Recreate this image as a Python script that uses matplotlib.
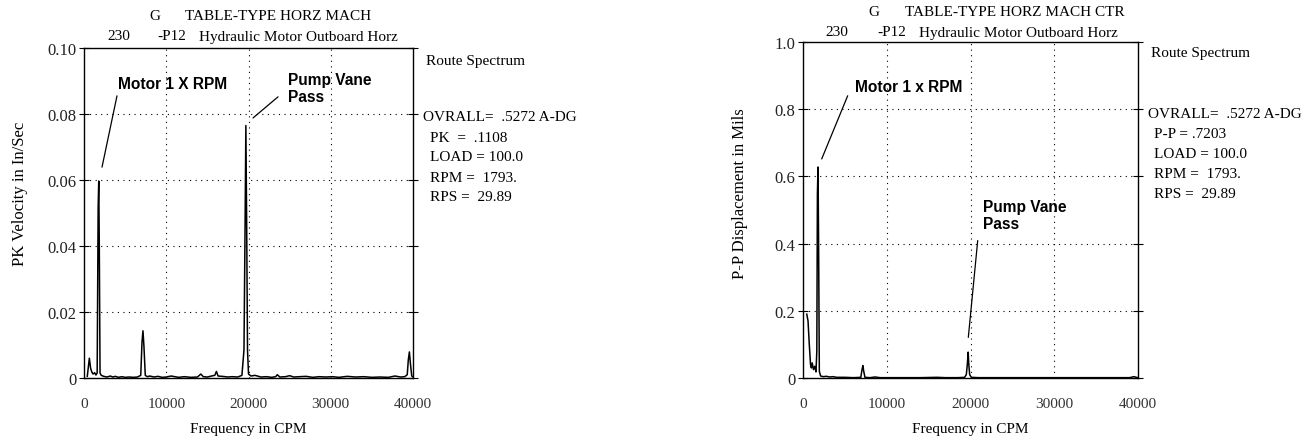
import matplotlib
matplotlib.use("Agg")
import matplotlib.pyplot as plt

# ---- data ----
left_cpm = [400, 650, 800, 950, 1100, 1300, 1450, 1600, 1720, 1793, 1860, 1950, 2100, 2400, 2800,
            3200, 3500, 3800, 4200, 4600, 5000, 5500, 6000, 6500, 6900, 7050, 7170, 7290, 7450,
            7700, 8000, 8500, 9000, 9500, 10000, 10600, 11500, 12200, 13000, 13800, 14200, 14500,
            15000, 15500, 15900, 16100, 16300, 16800, 17500, 18000, 18700, 19200, 19450, 19580,
            19680, 19780, 19880, 20000, 20300, 20800, 21500, 22200, 22800, 23300, 23500, 23800,
            24500, 25000, 25500, 26200, 27000, 27800, 28600, 29400, 30200, 31000, 32000, 33000,
            34000, 35000, 36000, 37000, 37800, 38500, 39000, 39300, 39430, 39560, 39700, 39850, 40000]
left_vel = [0.0005, 0.0060, 0.0030, 0.0018, 0.0012, 0.0016, 0.0009, 0.0015, 0.0515, 0.0597, 0.0400,
            0.0015, 0.0008, 0.0005, 0.0003, 0.0006, 0.0003, 0.0005, 0.0002, 0.0004, 0.0002, 0.0003,
            0.0002, 0.0003, 0.0008, 0.0108, 0.0143, 0.0095, 0.0008, 0.0004, 0.0006, 0.0003, 0.0005,
            0.0002, 0.0003, 0.0006, 0.0002, 0.0004, 0.0002, 0.0003, 0.0012, 0.0004, 0.0003, 0.0006,
            0.0008, 0.0020, 0.0006, 0.0005, 0.0003, 0.0004, 0.0003, 0.0008, 0.0085, 0.0450, 0.0765,
            0.0460, 0.0085, 0.0012, 0.0006, 0.0008, 0.0003, 0.0004, 0.0002, 0.0004, 0.0010, 0.0003,
            0.0004, 0.0007, 0.0003, 0.0004, 0.0005, 0.0002, 0.0004, 0.0003, 0.0004, 0.0002, 0.0005,
            0.0003, 0.0004, 0.0002, 0.0003, 0.0002, 0.0006, 0.0003, 0.0004, 0.0010, 0.0055, 0.0079,
            0.0040, 0.0006, 0.0003]

right_cpm = [450, 600, 750, 900, 1000, 1100, 1250, 1400, 1550, 1650, 1720, 1793, 1860, 1950, 2100,
             2400, 2800, 3200, 3600, 4000, 5000, 6000, 6900, 7050, 7150, 7250, 7400, 8000, 8600,
             9200, 10000, 12000, 14000, 16000, 17000, 18500, 19300, 19500, 19620, 19720, 19800,
             19900, 20100, 21000, 25000, 30000, 35000, 39000, 39500, 39800, 40000]
right_disp = [0.19, 0.17, 0.10, 0.04, 0.03, 0.045, 0.025, 0.035, 0.018, 0.08, 0.548, 0.628, 0.41,
              0.02, 0.006, 0.004, 0.005, 0.003, 0.004, 0.002, 0.002, 0.001, 0.002, 0.025, 0.037,
              0.02, 0.002, 0.001, 0.003, 0.001, 0.001, 0.001, 0.001, 0.002, 0.001, 0.001, 0.002,
              0.01, 0.04, 0.077, 0.04, 0.01, 0.002, 0.001, 0.001, 0.001, 0.001, 0.001, 0.004,
              0.002, 0.001]

x_ticks = [0, 10000, 20000, 30000, 40000]
left_yticks = [0, 0.02, 0.04, 0.06, 0.08, 0.10]
left_ylabels = ["0", "0.02", "0.04", "0.06", "0.08", "0.10"]
right_yticks = [0, 0.2, 0.4, 0.6, 0.8, 1.0]
right_ylabels = ["0", "0.2", "0.4", "0.6", "0.8", "1.0"]

left_info = ["PK  =  .1108", "LOAD = 100.0", "RPM =  1793.", "RPS =  29.89"]
right_info = ["P-P = .7203", "LOAD = 100.0", "RPM =  1793.", "RPS =  29.89"]

SERIF = "Liberation Serif"
SANS = "Liberation Sans"
W, H = 1315, 439

fig = plt.figure(figsize=(W / 100, H / 100), dpi=100)


def px(x, y):
    # pixel position -> figure fraction
    return x / W, 1 - y / H


def panel(left, right, top, bottom, cpm, amp, yticks, ylabels, ylabel, ylab_xy):
    ax = fig.add_axes([left / W, 1 - bottom / H, (right - left) / W, (bottom - top) / H])
    ax.plot(cpm, amp, color="black", lw=1.1)
    ax.set_xlim(0, 40000)
    ax.set_ylim(yticks[0], yticks[-1])
    ax.set_xticks(x_ticks)
    ax.set_xticklabels([str(t) for t in x_ticks], fontfamily=SERIF, fontsize=11, color="#333333")
    ax.set_yticks(yticks)
    ax.set_yticklabels(ylabels, fontfamily=SERIF, fontsize=12, color="#222222")
    ax.tick_params(axis="x", length=0, pad=14)
    ax.tick_params(axis="y", direction="inout", length=7, width=0.8, pad=2, right=True)
    for s in ax.spines.values():
        s.set_linewidth(1.0)
    for v in x_ticks[1:-1]:
        ax.axvline(v, color="black", lw=0.8, ls=(0, (1, 4)))
    for v in yticks[1:-1]:
        ax.axhline(v, color="black", lw=0.8, ls=(0, (1, 4)))
    ax.set_xlabel("Frequency in CPM", fontfamily=SERIF, fontsize=11, labelpad=8)
    ax.set_ylabel(ylabel, fontfamily=SERIF, fontsize=12)
    ax.yaxis.set_label_coords(*ylab_xy)
    return ax


def ftext(x, y, s, **kw):
    fig.text(*px(x, y), s, fontfamily=SERIF, fontsize=11, va="center", ha="left", **kw)


def callout(ax, s, text_xy, line_from, line_to):
    ax.text(*text_xy, s, fontfamily=SANS, fontweight="bold", fontsize=11.2,
            va="center", ha="left", linespacing=1.15)
    ax.annotate("", xy=line_to, xytext=line_from,
                arrowprops=dict(arrowstyle="-", color="black", lw=0.9, shrinkA=0, shrinkB=0))


# ---- left: velocity spectrum ----
ax1 = panel(84, 413, 49, 379, left_cpm, left_vel, left_yticks, left_ylabels,
            "PK Velocity in In/Sec", (-0.170, 0.56))
ftext(149, 17, "G")
ftext(185, 17, "TABLE-TYPE HORZ MACH")
ftext(107, 37, "230")
ftext(157, 37, "-P12")
ftext(199, 37, "Hydraulic Motor Outboard Horz")
ftext(426, 61, "Route Spectrum")
ftext(423, 118, "OVRALL=  .5272 A-DG")
for i, s in enumerate(left_info):
    ftext(430, 138 + 20 * i, s)

callout(ax1, "Motor 1 X RPM", (4134, 0.0891), (4012, 0.0855), (2190, 0.0639))
callout(ax1, "Pump Vane\nPass", (24800, 0.0879), (23590, 0.0852), (20550, 0.0788))

# ---- right: displacement spectrum ----
ax2 = panel(803, 1138, 43, 379, right_cpm, right_disp, right_yticks, right_ylabels,
            "P-P Displacement in Mils", (-0.164, 0.553))
ftext(868, 12, "G")
ftext(905, 12, "TABLE-TYPE HORZ MACH CTR")
ftext(825, 33, "230")
ftext(877, 33, "-P12")
ftext(919, 33, "Hydraulic Motor Outboard Horz")
ftext(1151, 54, "Route Spectrum")
ftext(1148, 115, "OVRALL=  .5272 A-DG")
for i, s in enumerate(right_info):
    ftext(1154, 135 + 20 * i, s)

callout(ax2, "Motor 1 x RPM", (6209, 0.869), (5337, 0.840), (2233, 0.652))
callout(ax2, "Pump Vane\nPass", (21455, 0.485), (20860, 0.409), (19740, 0.121))

fig.savefig("out.png", dpi=100, facecolor="white")
